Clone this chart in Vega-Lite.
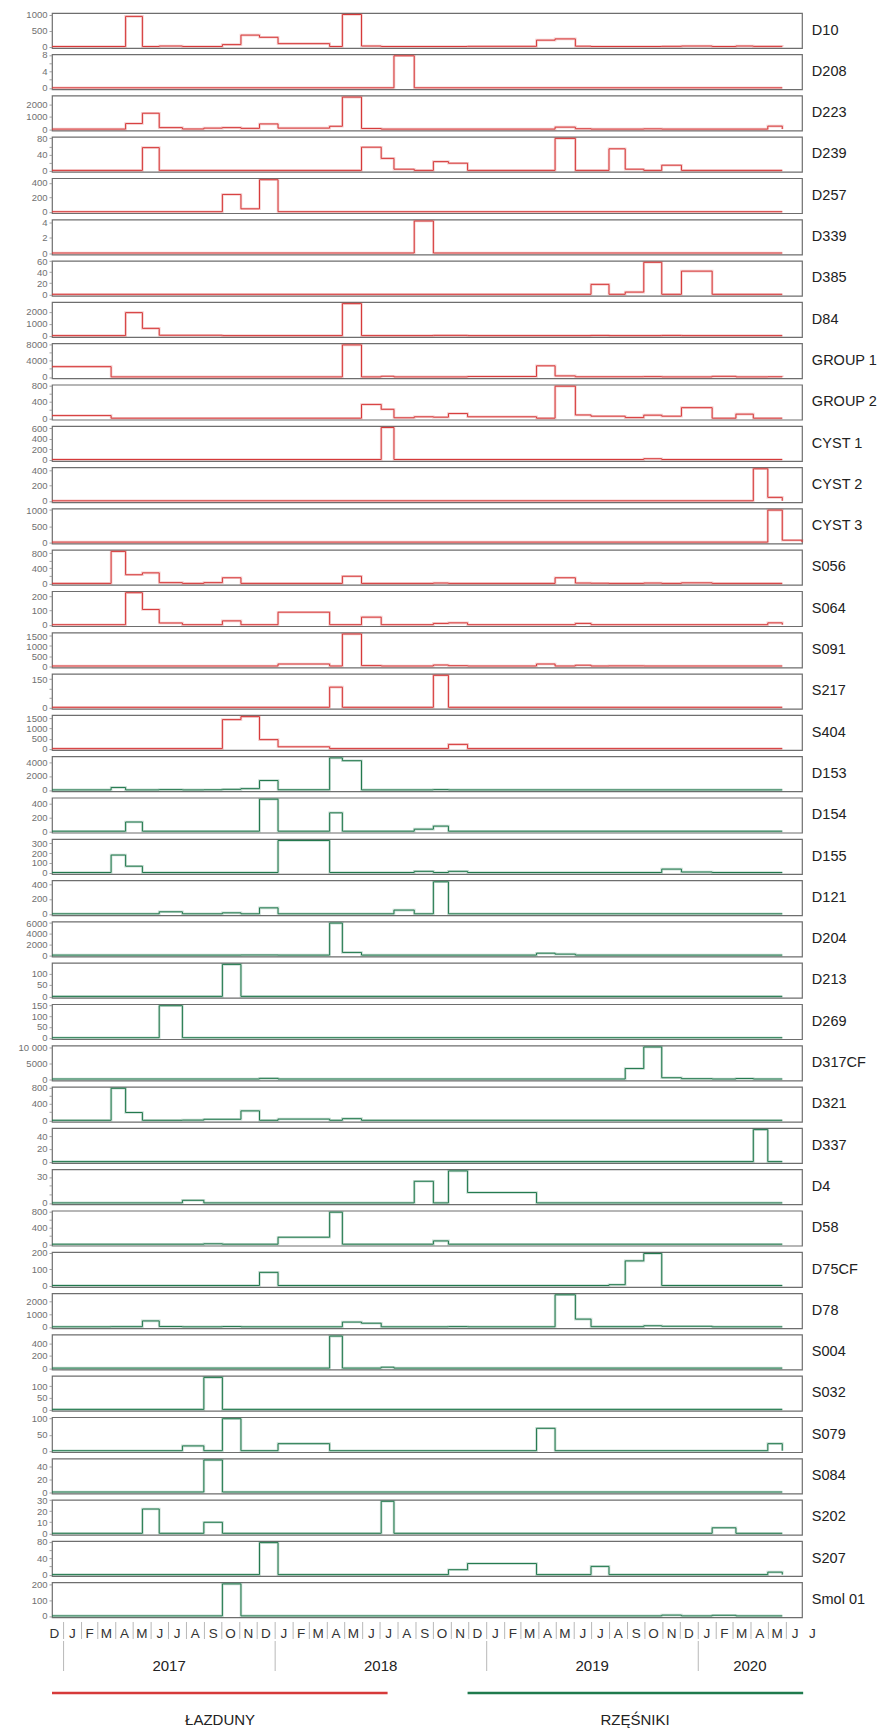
{
"$schema": "https://vega.github.io/schema/vega-lite/v6.json",
"padding": {"left": 13, "top": 8, "right": 0, "bottom": 0},
"background": "white",
"config": {
  "font": "Liberation Sans",
  "view": {"stroke": "#6e6e6e", "strokeWidth": 1.2},
  "axisY": {"title": null, "tickCount": 3, "format": "~r", "labelExpr": "datum.value >= 10000 ? replace(format(datum.value, ','), ',', ' ') : datum.label", "labelFontSize": 9.5, "labelColor": "#707070", "tickColor": "#8a8a8a", "tickSize": 3, "tickWidth": 0.8, "labelPadding": 2, "domain": false, "grid": false, "minExtent": 38, "maxExtent": 38}
},
"datasets": {
"series": [
{"s":"D10","t":"2016-12-12","v":0},{"s":"D10","t":"2017-04-18","v":950},{"s":"D10","t":"2017-05-17","v":0},{"s":"D10","t":"2017-06-15","v":15},{"s":"D10","t":"2017-07-25","v":0},{"s":"D10","t":"2017-10-02","v":60},{"s":"D10","t":"2017-11-03","v":360},{"s":"D10","t":"2017-12-05","v":290},{"s":"D10","t":"2018-01-06","v":90},{"s":"D10","t":"2018-04-05","v":0},{"s":"D10","t":"2018-04-27","v":1010},{"s":"D10","t":"2018-05-30","v":15},{"s":"D10","t":"2018-07-03","v":0},{"s":"D10","t":"2018-11-29","v":5},{"s":"D10","t":"2019-03-28","v":200},{"s":"D10","t":"2019-04-29","v":240},{"s":"D10","t":"2019-06-03","v":10},{"s":"D10","t":"2019-06-30","v":0},{"s":"D10","t":"2019-10-30","v":5},{"s":"D10","t":"2019-12-03","v":15},{"s":"D10","t":"2020-01-25","v":0},{"s":"D10","t":"2020-03-06","v":15},{"s":"D10","t":"2020-04-05","v":3},{"s":"D10","t":"2020-05-25","v":0},
{"s":"D208","t":"2016-12-12","v":0},{"s":"D208","t":"2018-07-25","v":7.8},{"s":"D208","t":"2018-08-29","v":0},{"s":"D208","t":"2020-05-25","v":0},
{"s":"D223","t":"2016-12-12","v":0},{"s":"D223","t":"2017-04-18","v":450},{"s":"D223","t":"2017-05-17","v":1290},{"s":"D223","t":"2017-06-15","v":120},{"s":"D223","t":"2017-07-25","v":10},{"s":"D223","t":"2017-08-31","v":80},{"s":"D223","t":"2017-10-02","v":120},{"s":"D223","t":"2017-11-03","v":60},{"s":"D223","t":"2017-12-05","v":420},{"s":"D223","t":"2018-01-06","v":80},{"s":"D223","t":"2018-04-05","v":230},{"s":"D223","t":"2018-04-27","v":2600},{"s":"D223","t":"2018-05-30","v":50},{"s":"D223","t":"2018-07-03","v":0},{"s":"D223","t":"2019-04-29","v":160},{"s":"D223","t":"2019-06-03","v":30},{"s":"D223","t":"2019-06-30","v":0},{"s":"D223","t":"2019-09-29","v":20},{"s":"D223","t":"2019-10-30","v":0},{"s":"D223","t":"2020-04-30","v":240},{"s":"D223","t":"2020-05-25","v":0},
{"s":"D239","t":"2016-12-12","v":0},{"s":"D239","t":"2017-05-17","v":57},{"s":"D239","t":"2017-06-15","v":0},{"s":"D239","t":"2018-05-30","v":58},{"s":"D239","t":"2018-07-03","v":30},{"s":"D239","t":"2018-07-25","v":3},{"s":"D239","t":"2018-08-29","v":0},{"s":"D239","t":"2018-10-01","v":22},{"s":"D239","t":"2018-10-27","v":18},{"s":"D239","t":"2018-11-29","v":0},{"s":"D239","t":"2019-04-29","v":80},{"s":"D239","t":"2019-06-03","v":0},{"s":"D239","t":"2019-07-31","v":54},{"s":"D239","t":"2019-08-28","v":3},{"s":"D239","t":"2019-09-29","v":0},{"s":"D239","t":"2019-10-30","v":13},{"s":"D239","t":"2019-12-03","v":0},{"s":"D239","t":"2020-05-25","v":0},
{"s":"D257","t":"2016-12-12","v":0},{"s":"D257","t":"2017-10-02","v":240},{"s":"D257","t":"2017-11-03","v":40},{"s":"D257","t":"2017-12-05","v":445},{"s":"D257","t":"2018-01-06","v":0},{"s":"D257","t":"2020-05-25","v":0},
{"s":"D339","t":"2016-12-12","v":0},{"s":"D339","t":"2018-08-29","v":4.2},{"s":"D339","t":"2018-10-01","v":0},{"s":"D339","t":"2020-05-25","v":0},
{"s":"D385","t":"2016-12-12","v":0},{"s":"D385","t":"2019-06-30","v":18},{"s":"D385","t":"2019-07-31","v":0},{"s":"D385","t":"2019-08-28","v":4},{"s":"D385","t":"2019-09-29","v":58},{"s":"D385","t":"2019-10-30","v":0},{"s":"D385","t":"2019-12-03","v":42},{"s":"D385","t":"2020-01-25","v":0},{"s":"D385","t":"2020-05-25","v":0},
{"s":"D84","t":"2016-12-12","v":0},{"s":"D84","t":"2017-04-18","v":1940},{"s":"D84","t":"2017-05-17","v":610},{"s":"D84","t":"2017-06-15","v":30},{"s":"D84","t":"2017-10-02","v":0},{"s":"D84","t":"2018-04-27","v":2700},{"s":"D84","t":"2018-05-30","v":0},{"s":"D84","t":"2018-10-01","v":20},{"s":"D84","t":"2018-11-29","v":0},{"s":"D84","t":"2019-06-30","v":15},{"s":"D84","t":"2019-07-31","v":0},{"s":"D84","t":"2019-10-30","v":15},{"s":"D84","t":"2019-12-03","v":0},{"s":"D84","t":"2020-05-25","v":0},
{"s":"GROUP 1","t":"2016-12-12","v":2500},{"s":"GROUP 1","t":"2017-03-24","v":0},{"s":"GROUP 1","t":"2018-04-27","v":7800},{"s":"GROUP 1","t":"2018-05-30","v":0},{"s":"GROUP 1","t":"2018-07-03","v":160},{"s":"GROUP 1","t":"2018-07-25","v":0},{"s":"GROUP 1","t":"2018-11-29","v":100},{"s":"GROUP 1","t":"2019-03-28","v":2700},{"s":"GROUP 1","t":"2019-04-29","v":240},{"s":"GROUP 1","t":"2019-06-03","v":30},{"s":"GROUP 1","t":"2019-09-29","v":60},{"s":"GROUP 1","t":"2019-10-30","v":0},{"s":"GROUP 1","t":"2020-01-25","v":140},{"s":"GROUP 1","t":"2020-03-06","v":0},{"s":"GROUP 1","t":"2020-04-30","v":40},{"s":"GROUP 1","t":"2020-05-25","v":0},
{"s":"GROUP 2","t":"2016-12-12","v":65},{"s":"GROUP 2","t":"2017-03-24","v":0},{"s":"GROUP 2","t":"2018-05-30","v":340},{"s":"GROUP 2","t":"2018-07-03","v":220},{"s":"GROUP 2","t":"2018-07-25","v":10},{"s":"GROUP 2","t":"2018-08-29","v":35},{"s":"GROUP 2","t":"2018-10-01","v":25},{"s":"GROUP 2","t":"2018-10-27","v":115},{"s":"GROUP 2","t":"2018-11-29","v":35},{"s":"GROUP 2","t":"2019-03-28","v":0},{"s":"GROUP 2","t":"2019-04-29","v":790},{"s":"GROUP 2","t":"2019-06-03","v":80},{"s":"GROUP 2","t":"2019-06-30","v":50},{"s":"GROUP 2","t":"2019-08-28","v":15},{"s":"GROUP 2","t":"2019-09-29","v":75},{"s":"GROUP 2","t":"2019-10-30","v":50},{"s":"GROUP 2","t":"2019-12-03","v":260},{"s":"GROUP 2","t":"2020-01-25","v":0},{"s":"GROUP 2","t":"2020-03-06","v":100},{"s":"GROUP 2","t":"2020-04-05","v":0},{"s":"GROUP 2","t":"2020-05-25","v":0},
{"s":"CYST 1","t":"2016-12-12","v":0},{"s":"CYST 1","t":"2018-07-03","v":610},{"s":"CYST 1","t":"2018-07-25","v":0},{"s":"CYST 1","t":"2019-09-29","v":15},{"s":"CYST 1","t":"2019-10-30","v":0},{"s":"CYST 1","t":"2020-05-25","v":0},
{"s":"CYST 2","t":"2016-12-12","v":0},{"s":"CYST 2","t":"2020-04-05","v":420},{"s":"CYST 2","t":"2020-04-30","v":45},{"s":"CYST 2","t":"2020-05-25","v":0},
{"s":"CYST 3","t":"2016-12-12","v":0},{"s":"CYST 3","t":"2020-04-30","v":1000},{"s":"CYST 3","t":"2020-05-25","v":60},{"s":"CYST 3","t":"2020-06-28","v":0},
{"s":"S056","t":"2016-12-12","v":0},{"s":"S056","t":"2017-03-24","v":850},{"s":"S056","t":"2017-04-18","v":230},{"s":"S056","t":"2017-05-17","v":280},{"s":"S056","t":"2017-06-15","v":20},{"s":"S056","t":"2017-07-25","v":0},{"s":"S056","t":"2017-08-31","v":20},{"s":"S056","t":"2017-10-02","v":150},{"s":"S056","t":"2017-11-03","v":0},{"s":"S056","t":"2018-04-27","v":190},{"s":"S056","t":"2018-05-30","v":0},{"s":"S056","t":"2018-10-01","v":10},{"s":"S056","t":"2018-10-27","v":0},{"s":"S056","t":"2019-04-29","v":150},{"s":"S056","t":"2019-06-03","v":10},{"s":"S056","t":"2019-06-30","v":5},{"s":"S056","t":"2019-07-31","v":0},{"s":"S056","t":"2019-09-29","v":10},{"s":"S056","t":"2019-10-30","v":0},{"s":"S056","t":"2019-12-03","v":15},{"s":"S056","t":"2020-01-25","v":0},{"s":"S056","t":"2020-05-25","v":0},
{"s":"S064","t":"2016-12-12","v":0},{"s":"S064","t":"2017-04-18","v":225},{"s":"S064","t":"2017-05-17","v":107},{"s":"S064","t":"2017-06-15","v":12},{"s":"S064","t":"2017-07-25","v":0},{"s":"S064","t":"2017-10-02","v":27},{"s":"S064","t":"2017-11-03","v":0},{"s":"S064","t":"2018-01-06","v":88},{"s":"S064","t":"2018-04-05","v":0},{"s":"S064","t":"2018-05-30","v":53},{"s":"S064","t":"2018-07-03","v":0},{"s":"S064","t":"2018-10-01","v":9},{"s":"S064","t":"2018-10-27","v":13},{"s":"S064","t":"2018-11-29","v":0},{"s":"S064","t":"2019-06-03","v":9},{"s":"S064","t":"2019-06-30","v":0},{"s":"S064","t":"2020-04-30","v":13},{"s":"S064","t":"2020-05-25","v":0},
{"s":"S091","t":"2016-12-12","v":0},{"s":"S091","t":"2018-01-06","v":100},{"s":"S091","t":"2018-04-05","v":0},{"s":"S091","t":"2018-04-27","v":1600},{"s":"S091","t":"2018-05-30","v":20},{"s":"S091","t":"2018-07-03","v":0},{"s":"S091","t":"2018-10-01","v":50},{"s":"S091","t":"2018-10-27","v":15},{"s":"S091","t":"2018-11-29","v":0},{"s":"S091","t":"2019-03-28","v":100},{"s":"S091","t":"2019-04-29","v":0},{"s":"S091","t":"2019-06-03","v":40},{"s":"S091","t":"2019-06-30","v":0},{"s":"S091","t":"2019-07-31","v":5},{"s":"S091","t":"2019-09-29","v":0},{"s":"S091","t":"2020-05-25","v":0},
{"s":"S217","t":"2016-12-12","v":0},{"s":"S217","t":"2018-04-05","v":107},{"s":"S217","t":"2018-04-27","v":0},{"s":"S217","t":"2018-10-01","v":170},{"s":"S217","t":"2018-10-27","v":0},{"s":"S217","t":"2020-05-25","v":0},
{"s":"S404","t":"2016-12-12","v":0},{"s":"S404","t":"2017-10-02","v":1450},{"s":"S404","t":"2017-11-03","v":1600},{"s":"S404","t":"2017-12-05","v":450},{"s":"S404","t":"2018-01-06","v":90},{"s":"S404","t":"2018-04-05","v":0},{"s":"S404","t":"2018-10-27","v":210},{"s":"S404","t":"2018-11-29","v":0},{"s":"S404","t":"2020-05-25","v":0},
{"s":"D153","t":"2016-12-12","v":0},{"s":"D153","t":"2017-03-24","v":350},{"s":"D153","t":"2017-04-18","v":0},{"s":"D153","t":"2017-06-15","v":40},{"s":"D153","t":"2017-07-25","v":0},{"s":"D153","t":"2017-08-31","v":20},{"s":"D153","t":"2017-10-02","v":80},{"s":"D153","t":"2017-11-03","v":180},{"s":"D153","t":"2017-12-05","v":1350},{"s":"D153","t":"2018-01-06","v":20},{"s":"D153","t":"2018-04-05","v":4600},{"s":"D153","t":"2018-04-27","v":4200},{"s":"D153","t":"2018-05-30","v":0},{"s":"D153","t":"2018-10-01","v":40},{"s":"D153","t":"2018-10-27","v":0},{"s":"D153","t":"2020-05-25","v":0},
{"s":"D154","t":"2016-12-12","v":0},{"s":"D154","t":"2017-04-18","v":135},{"s":"D154","t":"2017-05-17","v":0},{"s":"D154","t":"2017-12-05","v":470},{"s":"D154","t":"2018-01-06","v":0},{"s":"D154","t":"2018-04-05","v":270},{"s":"D154","t":"2018-04-27","v":0},{"s":"D154","t":"2018-08-29","v":30},{"s":"D154","t":"2018-10-01","v":75},{"s":"D154","t":"2018-10-27","v":0},{"s":"D154","t":"2020-05-25","v":0},
{"s":"D155","t":"2016-12-12","v":0},{"s":"D155","t":"2017-03-24","v":180},{"s":"D155","t":"2017-04-18","v":65},{"s":"D155","t":"2017-05-17","v":0},{"s":"D155","t":"2018-01-06","v":330},{"s":"D155","t":"2018-04-05","v":0},{"s":"D155","t":"2018-08-29","v":12},{"s":"D155","t":"2018-10-01","v":0},{"s":"D155","t":"2018-10-27","v":12},{"s":"D155","t":"2018-11-29","v":0},{"s":"D155","t":"2019-10-30","v":35},{"s":"D155","t":"2019-12-03","v":5},{"s":"D155","t":"2020-01-25","v":0},{"s":"D155","t":"2020-05-25","v":0},
{"s":"D121","t":"2016-12-12","v":0},{"s":"D121","t":"2017-06-15","v":27},{"s":"D121","t":"2017-07-25","v":0},{"s":"D121","t":"2017-10-02","v":13},{"s":"D121","t":"2017-11-03","v":0},{"s":"D121","t":"2017-12-05","v":80},{"s":"D121","t":"2018-01-06","v":0},{"s":"D121","t":"2018-07-25","v":50},{"s":"D121","t":"2018-08-29","v":0},{"s":"D121","t":"2018-10-01","v":430},{"s":"D121","t":"2018-10-27","v":0},{"s":"D121","t":"2020-05-25","v":0},
{"s":"D204","t":"2016-12-12","v":0},{"s":"D204","t":"2017-11-03","v":20},{"s":"D204","t":"2018-01-06","v":0},{"s":"D204","t":"2018-04-05","v":6000},{"s":"D204","t":"2018-04-27","v":500},{"s":"D204","t":"2018-05-30","v":0},{"s":"D204","t":"2019-03-28","v":360},{"s":"D204","t":"2019-04-29","v":180},{"s":"D204","t":"2019-06-03","v":0},{"s":"D204","t":"2020-05-25","v":0},
{"s":"D213","t":"2016-12-12","v":0},{"s":"D213","t":"2017-10-02","v":140},{"s":"D213","t":"2017-11-03","v":0},{"s":"D213","t":"2020-05-25","v":0},
{"s":"D269","t":"2016-12-12","v":0},{"s":"D269","t":"2017-06-15","v":148},{"s":"D269","t":"2017-07-25","v":0},{"s":"D269","t":"2020-05-25","v":0},
{"s":"D317CF","t":"2016-12-12","v":0},{"s":"D317CF","t":"2017-12-05","v":200},{"s":"D317CF","t":"2018-01-06","v":0},{"s":"D317CF","t":"2019-08-28","v":3300},{"s":"D317CF","t":"2019-09-29","v":10100},{"s":"D317CF","t":"2019-10-30","v":400},{"s":"D317CF","t":"2019-12-03","v":100},{"s":"D317CF","t":"2020-01-25","v":0},{"s":"D317CF","t":"2020-03-06","v":150},{"s":"D317CF","t":"2020-04-05","v":0},{"s":"D317CF","t":"2020-05-25","v":0},
{"s":"D321","t":"2016-12-12","v":0},{"s":"D321","t":"2017-03-24","v":780},{"s":"D321","t":"2017-04-18","v":190},{"s":"D321","t":"2017-05-17","v":0},{"s":"D321","t":"2017-07-25","v":5},{"s":"D321","t":"2017-08-31","v":25},{"s":"D321","t":"2017-11-03","v":230},{"s":"D321","t":"2017-12-05","v":0},{"s":"D321","t":"2018-01-06","v":30},{"s":"D321","t":"2018-04-05","v":0},{"s":"D321","t":"2018-04-27","v":40},{"s":"D321","t":"2018-05-30","v":0},{"s":"D321","t":"2020-05-25","v":0},
{"s":"D337","t":"2016-12-12","v":0},{"s":"D337","t":"2020-04-05","v":50},{"s":"D337","t":"2020-04-30","v":0},{"s":"D337","t":"2020-05-25","v":0},
{"s":"D4","t":"2016-12-12","v":0},{"s":"D4","t":"2017-07-25","v":3},{"s":"D4","t":"2017-08-31","v":0},{"s":"D4","t":"2018-08-29","v":25},{"s":"D4","t":"2018-10-01","v":0},{"s":"D4","t":"2018-10-27","v":37},{"s":"D4","t":"2018-11-29","v":12},{"s":"D4","t":"2019-03-28","v":0},{"s":"D4","t":"2020-05-25","v":0},
{"s":"D58","t":"2016-12-12","v":0},{"s":"D58","t":"2017-08-31","v":10},{"s":"D58","t":"2017-10-02","v":0},{"s":"D58","t":"2018-01-06","v":170},{"s":"D58","t":"2018-04-05","v":780},{"s":"D58","t":"2018-04-27","v":0},{"s":"D58","t":"2018-10-01","v":80},{"s":"D58","t":"2018-10-27","v":0},{"s":"D58","t":"2020-05-25","v":0},
{"s":"D75CF","t":"2016-12-12","v":0},{"s":"D75CF","t":"2017-12-05","v":80},{"s":"D75CF","t":"2018-01-06","v":0},{"s":"D75CF","t":"2019-07-31","v":5},{"s":"D75CF","t":"2019-08-28","v":150},{"s":"D75CF","t":"2019-09-29","v":195},{"s":"D75CF","t":"2019-10-30","v":0},{"s":"D75CF","t":"2020-05-25","v":0},
{"s":"D78","t":"2016-12-12","v":0},{"s":"D78","t":"2017-03-24","v":10},{"s":"D78","t":"2017-05-17","v":460},{"s":"D78","t":"2017-06-15","v":20},{"s":"D78","t":"2017-07-25","v":0},{"s":"D78","t":"2017-10-02","v":20},{"s":"D78","t":"2017-11-03","v":0},{"s":"D78","t":"2018-04-27","v":370},{"s":"D78","t":"2018-05-30","v":280},{"s":"D78","t":"2018-07-03","v":0},{"s":"D78","t":"2018-10-27","v":15},{"s":"D78","t":"2018-11-29","v":0},{"s":"D78","t":"2019-04-29","v":2500},{"s":"D78","t":"2019-06-03","v":600},{"s":"D78","t":"2019-06-30","v":10},{"s":"D78","t":"2019-09-29","v":80},{"s":"D78","t":"2019-10-30","v":40},{"s":"D78","t":"2020-01-25","v":0},{"s":"D78","t":"2020-05-25","v":0},
{"s":"S004","t":"2016-12-12","v":0},{"s":"S004","t":"2018-04-05","v":520},{"s":"S004","t":"2018-04-27","v":0},{"s":"S004","t":"2018-07-03","v":15},{"s":"S004","t":"2018-07-25","v":0},{"s":"S004","t":"2020-05-25","v":0},
{"s":"S032","t":"2016-12-12","v":0},{"s":"S032","t":"2017-08-31","v":138},{"s":"S032","t":"2017-10-02","v":0},{"s":"S032","t":"2020-05-25","v":0},
{"s":"S079","t":"2016-12-12","v":0},{"s":"S079","t":"2017-07-25","v":15},{"s":"S079","t":"2017-08-31","v":0},{"s":"S079","t":"2017-10-02","v":100},{"s":"S079","t":"2017-11-03","v":0},{"s":"S079","t":"2018-01-06","v":22},{"s":"S079","t":"2018-04-05","v":0},{"s":"S079","t":"2019-03-28","v":70},{"s":"S079","t":"2019-04-29","v":0},{"s":"S079","t":"2020-04-30","v":22},{"s":"S079","t":"2020-05-25","v":0},
{"s":"S084","t":"2016-12-12","v":0},{"s":"S084","t":"2017-08-31","v":51},{"s":"S084","t":"2017-10-02","v":0},{"s":"S084","t":"2020-05-25","v":0},
{"s":"S202","t":"2016-12-12","v":0},{"s":"S202","t":"2017-05-17","v":22},{"s":"S202","t":"2017-06-15","v":0},{"s":"S202","t":"2017-08-31","v":10},{"s":"S202","t":"2017-10-02","v":0},{"s":"S202","t":"2018-07-03","v":29},{"s":"S202","t":"2018-07-25","v":0},{"s":"S202","t":"2020-01-25","v":5},{"s":"S202","t":"2020-03-06","v":0},{"s":"S202","t":"2020-05-25","v":0},
{"s":"S207","t":"2016-12-12","v":0},{"s":"S207","t":"2017-12-05","v":78},{"s":"S207","t":"2018-01-06","v":0},{"s":"S207","t":"2018-10-27","v":12},{"s":"S207","t":"2018-11-29","v":27},{"s":"S207","t":"2019-03-28","v":0},{"s":"S207","t":"2019-06-30","v":20},{"s":"S207","t":"2019-07-31","v":0},{"s":"S207","t":"2020-04-30","v":6},{"s":"S207","t":"2020-05-25","v":0},
{"s":"Smol 01","t":"2016-12-12","v":0},{"s":"Smol 01","t":"2017-10-02","v":205},{"s":"Smol 01","t":"2017-11-03","v":0},{"s":"Smol 01","t":"2019-10-30","v":5},{"s":"Smol 01","t":"2019-12-03","v":0},{"s":"Smol 01","t":"2020-01-25","v":4},{"s":"Smol 01","t":"2020-03-06","v":0},{"s":"Smol 01","t":"2020-05-25","v":0}
]
},
"spacing": -5,
"resolve": {"scale": {"x": "independent", "y": "independent", "color": "independent"}},
"vconcat": [
{
  "data": {"name": "series"},
  "spacing": 6.3,
  "bounds": "flush",
  "facet": {"row": {"field": "s", "type": "nominal", "header": null,
    "sort": ["D10","D208","D223","D239","D257","D339","D385","D84","GROUP 1","GROUP 2","CYST 1","CYST 2","CYST 3","S056","S064","S091","S217","S404","D153","D154","D155","D121","D204","D213","D269","D317CF","D321","D337","D4","D58","D75CF","D78","S004","S032","S079","S084","S202","S207","Smol 01"]}},
  "resolve": {"scale": {"y": "independent"}},
  "spec": {
    "width": 750,
    "height": 35,
    "layer": [
      {"mark": {"type": "line", "interpolate": "step-after", "strokeWidth": 2.6, "opacity": 0.25},
       "encoding": {
         "x": {"field": "t", "type": "temporal", "scale": {"domain": [{"year": 2016, "month": 12, "date": 12, "utc": true}, {"year": 2020, "month": 6, "date": 28, "utc": true}]}, "axis": null},
         "y": {"field": "v", "type": "quantitative", "scale": {"nice": false, "padding": 1.5, "domainMin": 0}},
         "color": {"condition": {"test": "indexof(['D153','D154','D155','D121','D204','D213','D269','D317CF','D321','D337','D4','D58','D75CF','D78','S004','S032','S079','S084','S202','S207','Smol 01'], datum.s) >= 0", "value": "#23794e"}, "value": "#d63a3a"}}},
      {"mark": {"type": "line", "interpolate": "step-after", "strokeWidth": 1},
       "encoding": {
         "x": {"field": "t", "type": "temporal", "scale": {"domain": [{"year": 2016, "month": 12, "date": 12, "utc": true}, {"year": 2020, "month": 6, "date": 28, "utc": true}]}, "axis": null},
         "y": {"field": "v", "type": "quantitative", "scale": {"nice": false, "padding": 1.5, "domainMin": 0}},
         "color": {"condition": {"test": "indexof(['D153','D154','D155','D121','D204','D213','D269','D317CF','D321','D337','D4','D58','D75CF','D78','S004','S032','S079','S084','S202','S207','Smol 01'], datum.s) >= 0", "value": "#23794e"}, "value": "#d63a3a"}}},
      {"transform": [{"aggregate": [{"op": "count", "as": "n"}], "groupby": ["s"]}],
       "mark": {"type": "text", "align": "left", "baseline": "middle", "fontSize": 14.5, "color": "#222222"},
       "encoding": {
         "x": {"datum": {"year": 2020, "month": 7, "date": 15, "utc": true}, "type": "temporal", "scale": {"domain": [{"year": 2016, "month": 12, "date": 12, "utc": true}, {"year": 2020, "month": 6, "date": 28, "utc": true}]}},
         "text": {"field": "s"}}}
    ]
  }
},
{
  "width": 750,
  "height": 17,
  "view": {"stroke": null},
  "data": {"values": [
    {"s":"2016-12-01","c":"2016-12-16","m":"D"},
    {"s":"2017-01-01","c":"2017-01-16","m":"J"},{"s":"2017-02-01","c":"2017-02-15","m":"F"},{"s":"2017-03-01","c":"2017-03-16","m":"M"},{"s":"2017-04-01","c":"2017-04-16","m":"A"},{"s":"2017-05-01","c":"2017-05-16","m":"M"},{"s":"2017-06-01","c":"2017-06-16","m":"J"},{"s":"2017-07-01","c":"2017-07-16","m":"J"},{"s":"2017-08-01","c":"2017-08-16","m":"A"},{"s":"2017-09-01","c":"2017-09-16","m":"S"},{"s":"2017-10-01","c":"2017-10-16","m":"O"},{"s":"2017-11-01","c":"2017-11-16","m":"N"},{"s":"2017-12-01","c":"2017-12-16","m":"D"},
    {"s":"2018-01-01","c":"2018-01-16","m":"J"},{"s":"2018-02-01","c":"2018-02-15","m":"F"},{"s":"2018-03-01","c":"2018-03-16","m":"M"},{"s":"2018-04-01","c":"2018-04-16","m":"A"},{"s":"2018-05-01","c":"2018-05-16","m":"M"},{"s":"2018-06-01","c":"2018-06-16","m":"J"},{"s":"2018-07-01","c":"2018-07-16","m":"J"},{"s":"2018-08-01","c":"2018-08-16","m":"A"},{"s":"2018-09-01","c":"2018-09-16","m":"S"},{"s":"2018-10-01","c":"2018-10-16","m":"O"},{"s":"2018-11-01","c":"2018-11-16","m":"N"},{"s":"2018-12-01","c":"2018-12-16","m":"D"},
    {"s":"2019-01-01","c":"2019-01-16","m":"J"},{"s":"2019-02-01","c":"2019-02-15","m":"F"},{"s":"2019-03-01","c":"2019-03-16","m":"M"},{"s":"2019-04-01","c":"2019-04-16","m":"A"},{"s":"2019-05-01","c":"2019-05-16","m":"M"},{"s":"2019-06-01","c":"2019-06-16","m":"J"},{"s":"2019-07-01","c":"2019-07-16","m":"J"},{"s":"2019-08-01","c":"2019-08-16","m":"A"},{"s":"2019-09-01","c":"2019-09-16","m":"S"},{"s":"2019-10-01","c":"2019-10-16","m":"O"},{"s":"2019-11-01","c":"2019-11-16","m":"N"},{"s":"2019-12-01","c":"2019-12-16","m":"D"},
    {"s":"2020-01-01","c":"2020-01-16","m":"J"},{"s":"2020-02-01","c":"2020-02-15","m":"F"},{"s":"2020-03-01","c":"2020-03-16","m":"M"},{"s":"2020-04-01","c":"2020-04-16","m":"A"},{"s":"2020-05-01","c":"2020-05-16","m":"M"},{"s":"2020-06-01","c":"2020-06-16","m":"J"},{"s":"2020-07-01","c":"2020-07-16","m":"J"}
  ]},
  "layer": [
    {"mark": {"type": "rule", "color": "#b8b8b8", "strokeWidth": 1, "clip": true},
     "encoding": {"x": {"field": "s", "type": "temporal", "scale": {"domain": [{"year": 2016, "month": 12, "date": 12, "utc": true}, {"year": 2020, "month": 6, "date": 28, "utc": true}]}, "axis": null}}},
    {"mark": {"type": "text", "fontSize": 13.5, "color": "#333333", "baseline": "middle", "dy": 3.5},
     "encoding": {
       "x": {"field": "c", "type": "temporal", "scale": {"domain": [{"year": 2016, "month": 12, "date": 12, "utc": true}, {"year": 2020, "month": 6, "date": 28, "utc": true}]}, "axis": null},
       "y": {"datum": 2, "type": "quantitative", "scale": {"domain": [1, 3], "zero": false, "nice": false}, "axis": {"labels": false, "ticks": false, "domain": false, "grid": false, "title": null}},
       "text": {"field": "m"}}}
  ]
},
{
  "width": 750,
  "height": 30,
  "view": {"stroke": null},
  "data": {"values": [
    {"s":"2017-01-01","c":"2017-07-02","y":"2017"},
    {"s":"2018-01-01","c":"2018-07-02","y":"2018"},
    {"s":"2019-01-01","c":"2019-07-02","y":"2019"},
    {"s":"2020-01-01","c":"2020-03-30","y":"2020"}
  ]},
  "layer": [
    {"mark": {"type": "rule", "color": "#b8b8b8", "strokeWidth": 1},
     "encoding": {"x": {"field": "s", "type": "temporal", "scale": {"domain": [{"year": 2016, "month": 12, "date": 12, "utc": true}, {"year": 2020, "month": 6, "date": 28, "utc": true}]}, "axis": null}}},
    {"mark": {"type": "text", "fontSize": 15, "color": "#222222", "baseline": "middle", "dy": 10},
     "encoding": {
       "x": {"field": "c", "type": "temporal", "scale": {"domain": [{"year": 2016, "month": 12, "date": 12, "utc": true}, {"year": 2020, "month": 6, "date": 28, "utc": true}]}, "axis": null},
       "y": {"datum": 2, "type": "quantitative", "scale": {"domain": [1, 3], "zero": false, "nice": false}, "axis": {"labels": false, "ticks": false, "domain": false, "grid": false, "title": null}},
       "text": {"field": "y"}}}
  ]
},
{
  "width": 750,
  "height": 38,
  "view": {"stroke": null},
  "data": {"values": [
    {"a":"2016-12-12","b":"2018-07-14","c":"2017-09-28","n":"ŁAZDUNY","g":"L"},
    {"a":"2018-11-29","b":"2020-06-30","c":"2019-09-14","n":"RZĘŚNIKI","g":"R"}
  ]},
  "layer": [
    {"mark": {"type": "rule", "strokeWidth": 2.5},
     "encoding": {
       "x": {"field": "a", "type": "temporal", "scale": {"domain": [{"year": 2016, "month": 12, "date": 12, "utc": true}, {"year": 2020, "month": 6, "date": 28, "utc": true}]}, "axis": null},
       "x2": {"field": "b"},
       "color": {"field": "g", "type": "nominal", "scale": {"domain": ["L", "R"], "range": ["#d63a3a", "#1f7a4d"]}, "legend": null}}},
    {"mark": {"type": "text", "fontSize": 15, "color": "#222222", "baseline": "middle", "dy": 27},
     "encoding": {
       "x": {"field": "c", "type": "temporal", "scale": {"domain": [{"year": 2016, "month": 12, "date": 12, "utc": true}, {"year": 2020, "month": 6, "date": 28, "utc": true}]}, "axis": null},
       "y": {"datum": 2, "type": "quantitative", "scale": {"domain": [1, 3], "zero": false, "nice": false}, "axis": {"labels": false, "ticks": false, "domain": false, "grid": false, "title": null}},
       "text": {"field": "n"}}}
  ]
}
]
}
